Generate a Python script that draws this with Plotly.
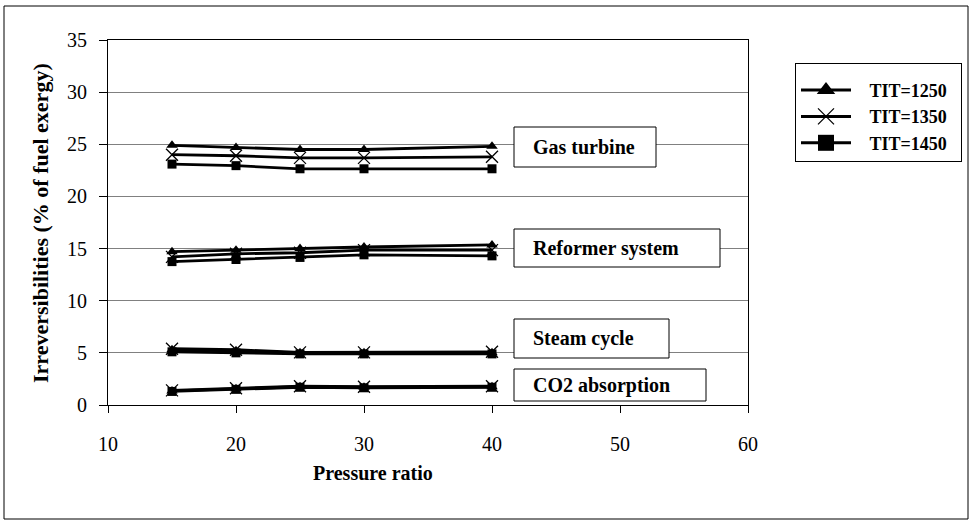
import plotly.graph_objects as go

# ---------------- data ----------------
pressure_ratio = [15, 20, 25, 30, 40]
tit_labels = ["TIT=1250", "TIT=1350", "TIT=1450"]

gas_turbine_1250 = [24.9, 24.7, 24.5, 24.5, 24.8]
gas_turbine_1350 = [24.0, 23.9, 23.7, 23.7, 23.8]
gas_turbine_1450 = [23.1, 22.95, 22.65, 22.65, 22.65]

reformer_1250 = [14.7, 14.85, 15.0, 15.15, 15.35]
reformer_1350 = [14.2, 14.5, 14.6, 14.85, 14.85]
reformer_1450 = [13.75, 13.95, 14.15, 14.4, 14.3]

steam_1250 = [5.3, 5.2, 5.0, 5.0, 5.0]
steam_1350 = [5.4, 5.3, 5.05, 5.05, 5.1]
steam_1450 = [5.1, 5.0, 4.9, 4.9, 4.9]

co2_1250 = [1.35, 1.55, 1.75, 1.7, 1.75]
co2_1350 = [1.4, 1.6, 1.8, 1.75, 1.8]
co2_1450 = [1.3, 1.5, 1.7, 1.65, 1.7]

component_labels = ["Gas turbine", "Reformer system", "Steam cycle", "CO2 absorption"]

x_ticks = [10, 20, 30, 40, 50, 60]
y_ticks = [0, 5, 10, 15, 20, 25, 30, 35]

# ---------------- layout geometry (pixels) ----------------
W, H = 971, 525
L, R, T, B = 108, 748, 40, 405
PW, PH = R - L, B - T


def px(xp):
    return (xp - L) / PW


def py(yp):
    return (B - yp) / PH


FONT = "Liberation Serif, Times New Roman, serif"

series = {
    "TIT=1250": [gas_turbine_1250, reformer_1250, steam_1250, co2_1250],
    "TIT=1350": [gas_turbine_1350, reformer_1350, steam_1350, co2_1350],
    "TIT=1450": [gas_turbine_1450, reformer_1450, steam_1450, co2_1450],
}
markers = {
    "TIT=1250": dict(symbol="triangle-up", size=10, color="black"),
    "TIT=1350": dict(symbol="x-thin-open", size=12, color="black",
                     line=dict(color="black", width=1.3)),
    "TIT=1450": dict(symbol="square", size=9, color="black"),
}
legend_markers = {
    "TIT=1250": dict(symbol="triangle-up", size=16, color="black"),
    "TIT=1350": dict(symbol="x-thin-open", size=16, color="black",
                     line=dict(color="black", width=1.3)),
    "TIT=1450": dict(symbol="square", size=16, color="black"),
}

fig = go.Figure()
for name in tit_labels:
    for comp in series[name]:
        fig.add_trace(go.Scatter(
            x=pressure_ratio, y=comp, mode="lines+markers",
            line=dict(color="black", width=2.8),
            marker=markers[name], showlegend=False, hoverinfo="skip"))
# legend entries
for name in tit_labels:
    fig.add_trace(go.Scatter(
        x=[None], y=[None], mode="lines+markers",
        name="&nbsp;&nbsp;&nbsp;<b>" + name + "</b>&nbsp;&nbsp;",
        line=dict(color="black", width=3), marker=legend_markers[name]))

shapes = [
    # outer frame
    dict(type="rect", xref="paper", yref="paper",
         x0=px(4), x1=px(968), y0=py(6), y1=py(519),
         line=dict(color="black", width=1), fillcolor="rgba(0,0,0,0)", layer="below"),
]

boxes = [
    (component_labels[0], 514, 656, 127, 167),
    (component_labels[1], 514, 720, 229, 267),
    (component_labels[2], 514, 669, 319, 358),
    (component_labels[3], 514, 706, 369, 401),
]
annotations = []
for text, x0, x1, y0, y1 in boxes:
    shapes.append(dict(type="rect", xref="paper", yref="paper",
                       x0=px(x0), x1=px(x1), y0=py(y1), y1=py(y0),
                       line=dict(color="black", width=1), fillcolor="white",
                       layer="above"))
    annotations.append(dict(xref="paper", yref="paper", x=px(x0 + 17), y=py((y0 + y1) / 2),
                            xanchor="left", yanchor="middle", showarrow=False,
                            text="<b>" + text + "</b>",
                            font=dict(family=FONT, size=20, color="black")))

annotations.append(dict(xref="paper", yref="paper", x=px(373), y=py(473),
                        xanchor="center", yanchor="middle", showarrow=False,
                        text="<b>Pressure ratio</b>",
                        font=dict(family=FONT, size=20, color="black")))
annotations.append(dict(xref="paper", yref="paper", x=px(40), y=py(223),
                        xanchor="center", yanchor="middle", showarrow=False,
                        textangle=-90,
                        text="<b>Irreversibilities (% of fuel exergy)</b>",
                        font=dict(family=FONT, size=22, color="black")))

fig.update_layout(
    width=W, height=H,
    margin=dict(l=L, r=W - R, t=T, b=H - B, autoexpand=False),
    paper_bgcolor="white", plot_bgcolor="white",
    font=dict(family=FONT, size=20, color="black"),
    shapes=shapes, annotations=annotations,
    legend=dict(x=px(795), y=py(63), xanchor="left", yanchor="top",
                bordercolor="black", borderwidth=1, bgcolor="white",
                font=dict(family=FONT, size=18, color="black"),
                title=dict(text=" ", font=dict(size=6)),
                itemwidth=50, tracegroupgap=0),
    showlegend=True,
)
fig.update_xaxes(range=[10, 60], tickvals=x_ticks, ticktext=[str(v) for v in x_ticks],
                 showgrid=False, zeroline=False, showline=True, linecolor="black",
                 linewidth=1, mirror=True, ticks="outside", ticklen=7, tickcolor="black",
                 ticklabelstandoff=14, tickfont=dict(family=FONT, size=20))
fig.update_yaxes(range=[0, 35], tickvals=y_ticks, ticktext=[str(v) for v in y_ticks],
                 showgrid=True, gridcolor="#808080", gridwidth=1, zeroline=False,
                 showline=True, linecolor="black", linewidth=1, mirror=True,
                 ticks="outside", ticklen=8, tickcolor="black",
                 ticklabelstandoff=8, tickfont=dict(family=FONT, size=20))

fig.write_html("out.html")
